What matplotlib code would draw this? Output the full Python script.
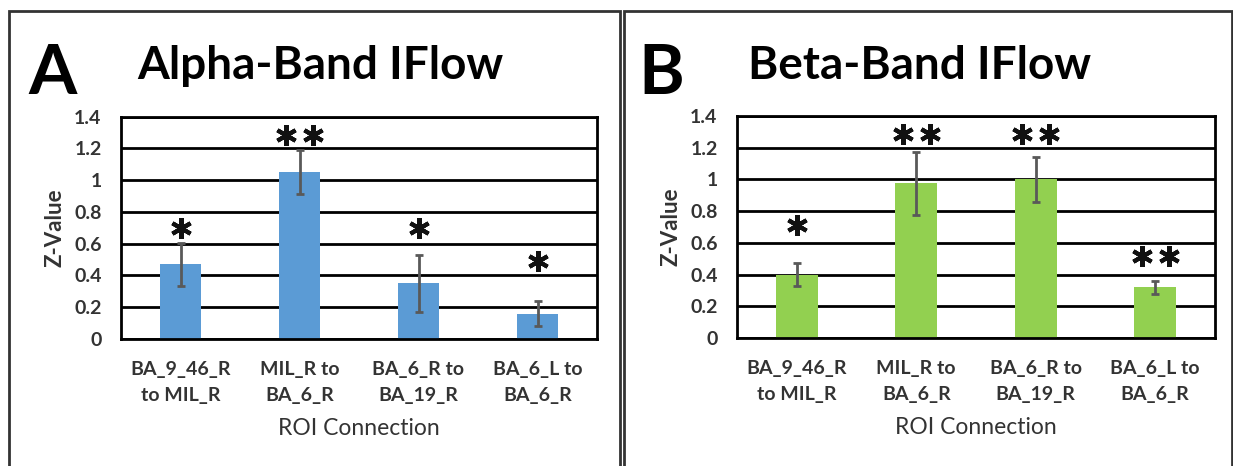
import matplotlib.pyplot as plt
from matplotlib.patches import Rectangle

plt.rcParams['font.family'] = ['Lato', 'DejaVu Sans']

# data
categories = ["BA_9_46_R\nto MIL_R", "MIL_R to\nBA_6_R", "BA_6_R to\nBA_19_R", "BA_6_L to\nBA_6_R"]

alpha_vals = [0.47, 1.05, 0.35, 0.16]
alpha_err = [0.135, 0.14, 0.18, 0.08]
alpha_stars = [1, 2, 1, 1]          # number of asterisks
alpha_star_y = [0.70, 1.285, 0.70, 0.49]

beta_vals = [0.40, 0.975, 1.0, 0.32]
beta_err = [0.07, 0.2, 0.14, 0.042]
beta_stars = [1, 2, 2, 2]
beta_star_y = [0.71, 1.285, 1.285, 0.52]

yticks = [0, 0.2, 0.4, 0.6, 0.8, 1.0, 1.2, 1.4]
ytick_labels = ["0", "0.2", "0.4", "0.6", "0.8", "1", "1.2", "1.4"]

W, H = 1233, 466
fig = plt.figure(figsize=(W / 100, H / 100), dpi=100)


def px(x0, y0, x1, y1):
    # pixel box (top-left origin) -> figure fraction rect
    return [x0 / W, 1 - y1 / H, (x1 - x0) / W, (y1 - y0) / H]


def panel(rect, vals, err, stars, star_y, color):
    ax = fig.add_axes(rect)
    x = range(len(vals))
    ax.set_axisbelow(True)
    ax.bar(x, vals, width=0.35, color=color, zorder=2)
    ax.errorbar(x, vals, yerr=err, fmt='none', ecolor='#595959',
                elinewidth=2, capsize=3, capthick=2, zorder=3)
    for i, (n, y) in enumerate(zip(stars, star_y)):
        offs = [0] if n == 1 else [-0.115, 0.115]
        ax.plot([i + o for o in offs], [y] * n, linestyle='none',
                marker=(6, 2, 0), markersize=15, markeredgewidth=3,
                color='#111111', zorder=4)
    ax.set_xlim(-0.5, len(vals) - 0.5)
    ax.set_ylim(0, 1.4)
    ax.set_yticks(yticks)
    ax.set_yticklabels(ytick_labels, fontsize=14, fontweight='bold', color='#333333')
    ax.set_xticks(list(x))
    ax.set_xticklabels(categories, fontsize=14, fontweight='bold', color='#333333',
                       linespacing=1.6)
    ax.tick_params(length=0, pad=14)
    ax.tick_params(axis='x', pad=16)
    ax.yaxis.grid(True, color='black', linewidth=2)
    for sp in ax.spines.values():
        sp.set_linewidth(2)
        sp.set_color('black')
    ax.set_ylabel("Z-Value", fontsize=16, fontweight='bold', color='#333333', labelpad=6)
    ax.set_xlabel("ROI Connection", fontsize=16.5, color='#333333', labelpad=10)
    return ax


panel(px(121, 116.5, 597, 339), alpha_vals, alpha_err, alpha_stars, alpha_star_y, '#5B9BD5')
panel(px(737, 116, 1215, 338), beta_vals, beta_err, beta_stars, beta_star_y, '#92D050')

# panel frames
for x0, x1 in [(9, 620), (624, 1232)]:
    fig.patches.append(Rectangle((x0 / W, -0.1), (x1 - x0) / W, 1.1 - 11 / H,
                                 transform=fig.transFigure, fill=False,
                                 edgecolor='#333333', linewidth=2))

fig.text(28 / W, 1 - 74 / H, "A", fontsize=50, fontweight='bold', va='center', ha='left')
fig.text(320 / W, 1 - 66 / H, "Alpha-Band IFlow", fontsize=33, fontweight='bold',
         va='center', ha='center')
fig.text(638 / W, 1 - 74 / H, "B", fontsize=50, fontweight='bold', va='center', ha='left')
fig.text(920 / W, 1 - 66 / H, "Beta-Band IFlow", fontsize=33, fontweight='bold',
         va='center', ha='center')

fig.savefig("out.png", dpi=100)
